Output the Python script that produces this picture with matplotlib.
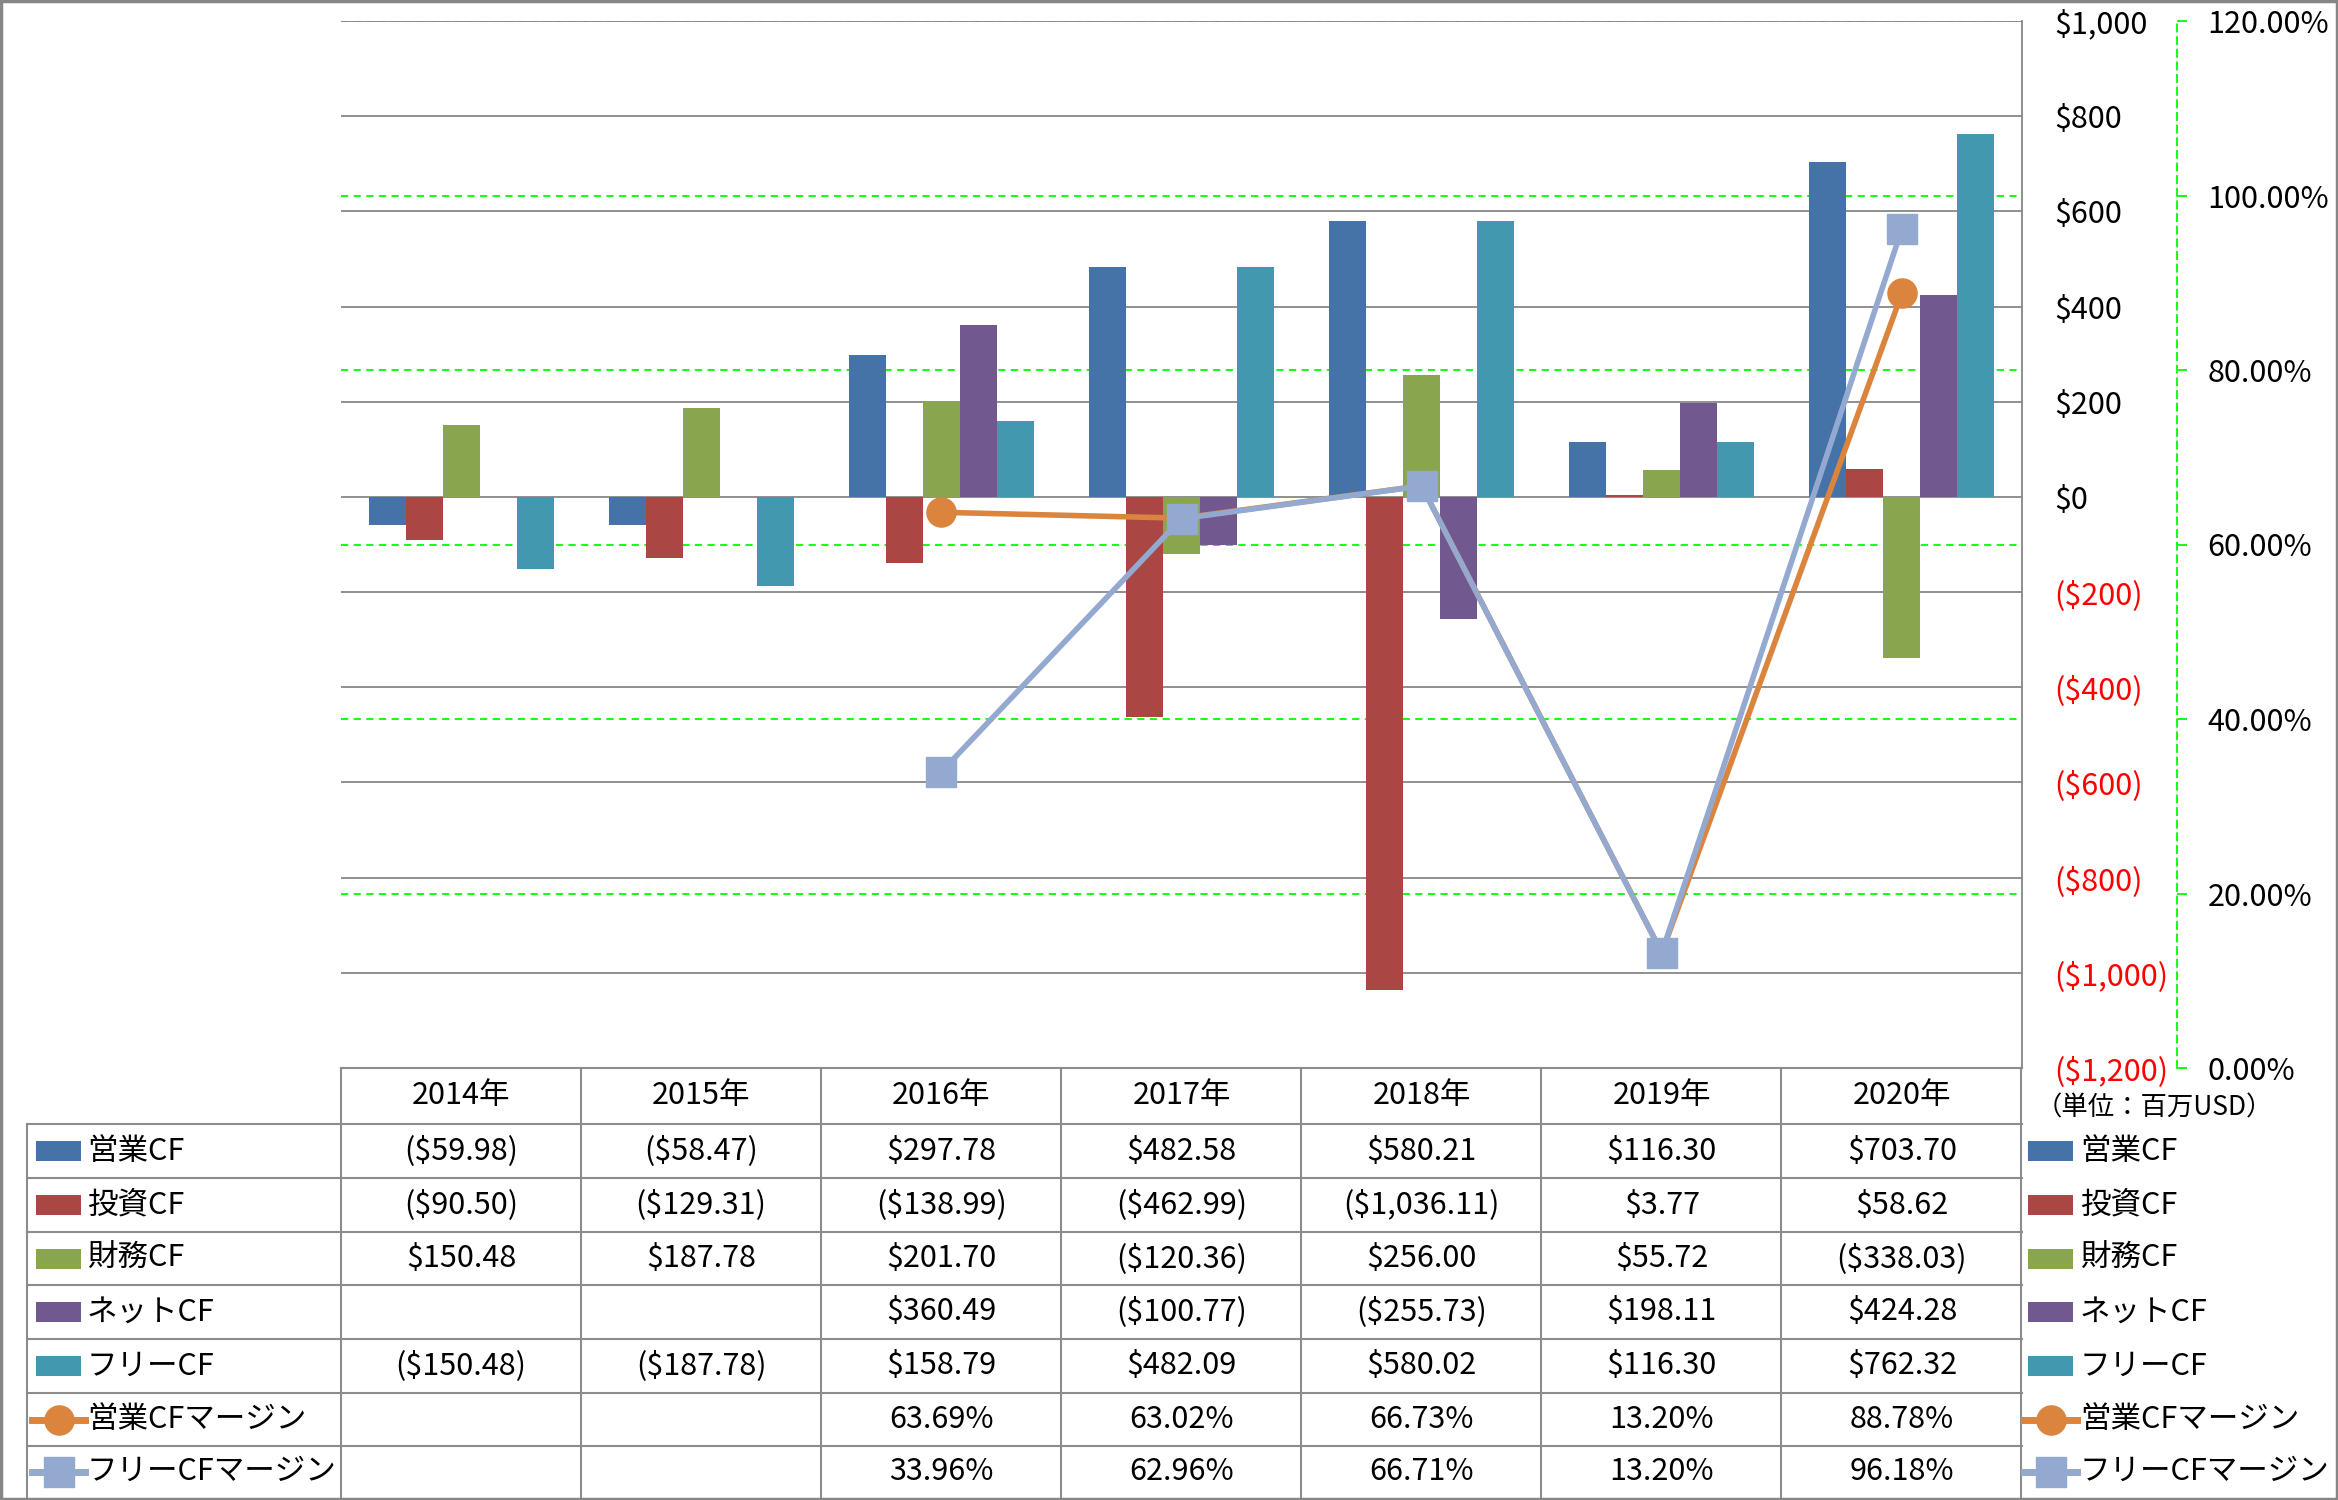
import matplotlib
matplotlib.use('Agg')
import matplotlib.pyplot as plt
import matplotlib.transforms as mtransforms
from matplotlib.patches import Rectangle
from matplotlib.lines import Line2D
import numpy as np

plt.rcParams['font.family'] = ['Noto Sans CJK JP', 'DejaVu Sans']

# ---------------- data ----------------
years = ['2014年', '2015年', '2016年', '2017年', '2018年', '2019年', '2020年']
op_cf = [-59.98, -58.47, 297.78, 482.58, 580.21, 116.30, 703.70]
inv_cf = [-90.50, -129.31, -138.99, -462.99, -1036.11, 3.77, 58.62]
fin_cf = [150.48, 187.78, 201.70, -120.36, 256.00, 55.72, -338.03]
net_cf = [np.nan, np.nan, 360.49, -100.77, -255.73, 198.11, 424.28]
free_cf = [-150.48, -187.78, 158.79, 482.09, 580.02, 116.30, 762.32]
op_margin = [np.nan, np.nan, 63.69, 63.02, 66.73, 13.20, 88.78]
free_margin = [np.nan, np.nan, 33.96, 62.96, 66.71, 13.20, 96.18]

bar_names = ['営業CF', '投資CF', '財務CF', 'ネットCF', 'フリーCF']
line_names = ['営業CFマージン', 'フリーCFマージン']
unit_label = '（単位：百万USD）'
primary_ticks = list(range(-1200, 1001, 200))
secondary_ticks = list(range(0, 121, 20))

bar_colors = ['#4572A7', '#AA4643', '#89A54E', '#71588F', '#4198AF']
line_colors = ['#DB843D', '#93A9CF']
line_markers = ['o', 's']

# ---------------- layout ----------------
W, H = 2338, 1500
fig = plt.figure(figsize=(W / 100, H / 100), dpi=100)


def fx(x):
    return x / W


def fy(y):
    return 1 - y / H


L, R, T, B = 341, 2022, 21, 1068
rect = [fx(L), fy(B), fx(R) - fx(L), fy(T) - fy(B)]

grid_gray = '#878787'
lime = '#00FF00'

# secondary axis (percent) with green grid - lowest layer
axg = fig.add_axes(rect, zorder=0)
axg.set_xlim(-0.5, len(years) - 0.5)
axg.set_ylim(0, 120)
axg.set_xticks([])
axg.yaxis.tick_right()
axg.set_yticks(secondary_ticks)
axg.set_yticklabels([f'{v:.2f}%' for v in secondary_ticks])
for s in ['left', 'top', 'bottom']:
    axg.spines[s].set_visible(False)
axg.spines['right'].set_position(('axes', (2177 - L) / (R - L)))
axg.spines['right'].set_color(lime)
axg.spines['right'].set_linestyle((0, (4, 3)))
axg.spines['right'].set_linewidth(1.3)
axg.tick_params(axis='y', direction='out', length=7, width=1.3, color=lime,
                labelsize=22, pad=15)
axg.yaxis.grid(True, color=lime, linestyle=(0, (4, 3)), linewidth=1.3)
axg.set_facecolor('white')

# primary axis with bars
ax = fig.add_axes(rect, zorder=1)
ax.patch.set_visible(False)
ax.set_xlim(-0.5, len(years) - 0.5)
ax.set_ylim(-1200, 1000)
ax.set_xticks([])
ax.set_yticks(primary_ticks)


def money(v):
    if v < 0:
        return f'(${-v:,.0f})'
    return f'${v:,.0f}'


ax.set_yticklabels([money(v) for v in primary_ticks])
ax.yaxis.tick_right()
ax.tick_params(axis='y', length=0, labelsize=22, pad=23)
for lab, v in zip(ax.get_yticklabels(), primary_ticks):
    lab.set_color('#FF0000' if v < 0 else 'black')
for s in ['left', 'top', 'bottom']:
    ax.spines[s].set_visible(False)
ax.spines['right'].set_color(grid_gray)
ax.spines['right'].set_linewidth(1.3)
ax.set_axisbelow(True)
ax.yaxis.grid(True, color=grid_gray, linewidth=1.3)

x = np.arange(len(years))
bw = 0.154
series = [op_cf, inv_cf, fin_cf, net_cf, free_cf]
for i, (vals, c) in enumerate(zip(series, bar_colors)):
    ax.bar(x + (i - 2) * bw, vals, width=bw, color=c, zorder=2)

# lines on top
axl = fig.add_axes(rect, zorder=2)
axl.patch.set_visible(False)
axl.set_xlim(-0.5, len(years) - 0.5)
axl.set_ylim(0, 120)
axl.axis('off')
for vals, c, m in zip([op_margin, free_margin], line_colors, line_markers):
    axl.plot(x, vals, color=c, linewidth=4, marker=m, markersize=21,
             markeredgecolor=c, markerfacecolor=c, solid_joinstyle='round')

# ---------------- data table ----------------
tcolor = '#8c8c8c'
row_edges = [1124, 1178, 1232, 1285, 1339, 1393, 1446, 1497]
col_edges = [L + 240 * k for k in range(8)]
lw_t = 1.5

fig.add_artist(Line2D([fx(L), fx(R)], [fy(B), fy(B)], color=tcolor, lw=lw_t))
for y in row_edges[:-1]:
    fig.add_artist(Line2D([fx(27), fx(R)], [fy(y), fy(y)], color=tcolor, lw=lw_t))
fig.add_artist(Line2D([fx(27), fx(27)], [fy(row_edges[0]), fy(row_edges[-1])],
                      color=tcolor, lw=lw_t))
for cx in col_edges:
    fig.add_artist(Line2D([fx(cx), fx(cx)], [fy(B), fy(row_edges[-1])],
                          color=tcolor, lw=lw_t))

blend = mtransforms.blended_transform_factory(ax.transData, fig.transFigure)

for i, yr in enumerate(years):
    fig.text(i, fy((B + row_edges[0]) / 2), yr, transform=blend,
             ha='center', va='center', fontsize=22)


def fmt_money(v):
    if v is None or (isinstance(v, float) and np.isnan(v)):
        return ''
    if v < 0:
        return f'(${-v:,.2f})'
    return f'${v:,.2f}'


def fmt_pct(v):
    if v is None or (isinstance(v, float) and np.isnan(v)):
        return ''
    return f'{v:.2f}%'


rows = [(n, s, fmt_money) for n, s in zip(bar_names, series)] + \
       [(n, s, fmt_pct) for n, s in zip(line_names, [op_margin, free_margin])]

for r, (name, vals, f) in enumerate(rows):
    yc = (row_edges[r] + row_edges[r + 1]) / 2
    for i, v in enumerate(vals):
        fig.text(i, fy(yc), f(v), transform=blend, ha='center', va='center',
                 fontsize=22)

for kx0, tx in [(36, 87), (2028, 2080)]:
    for r, name in enumerate(bar_names + line_names):
        yc = (row_edges[r] + row_edges[r + 1]) / 2
        if r < 5:
            fig.add_artist(Rectangle((fx(kx0), fy(yc + 10)), fx(45), 20 / H,
                                     transform=fig.transFigure,
                                     facecolor=bar_colors[r], edgecolor='none'))
        else:
            c = line_colors[r - 5]
            m = line_markers[r - 5]
            fig.add_artist(Line2D([fx(kx0 - 4), fx(kx0 + 49)], [fy(yc), fy(yc)],
                                  color=c, lw=5, marker=None))
            fig.add_artist(Line2D([fx(kx0 + 22.5)], [fy(yc)], color=c,
                                  marker=m, markersize=21, markerfacecolor=c,
                                  markeredgecolor=c, lw=0))
        fig.text(fx(tx), fy(yc), name, ha='left', va='center', fontsize=22)

fig.text(fx(2036), fy(1108), unit_label, ha='left', va='center', fontsize=19)

fig.add_artist(Rectangle((0.0005, 0.0008), 0.999, 0.9985, transform=fig.transFigure,
                         fill=False, edgecolor='#868686', linewidth=2.5))

fig.savefig('out.png', dpi=100, facecolor='white')
